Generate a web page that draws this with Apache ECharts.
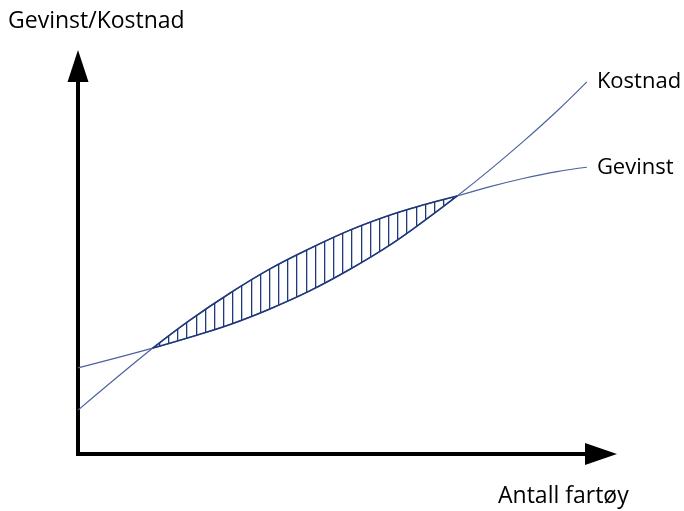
<!DOCTYPE html>
<html><head><meta charset="utf-8">
<script src="https://cdn.jsdelivr.net/npm/echarts@6/dist/echarts.min.js"></script>
<style>html,body{margin:0;padding:0;background:#fff}#c{width:684px;height:511px}</style>
</head><body><div id="c"></div>
<script>
// Schematic values (arbitrary units)
const xValues = [0, 1.43, 2.14, 2.91, 3.67, 4.44, 5.20, 5.97, 6.63, 7.25, 7.88, 8.51, 9.16, 9.73];
const kostnad = [2.22, 2.73, 3.01, 3.34, 3.74, 4.21, 4.76, 5.39, 6.02, 6.65, 7.33, 8.05, 8.84, 9.59];
const gevinst = [1.13, 2.73, 3.45, 4.15, 4.77, 5.30, 5.77, 6.16, 6.43, 6.65, 6.89, 7.10, 7.28, 7.39];
const lensStart = 1, lensEnd = 9; // indices of the two crossings
const seriesNames = ['Kostnad', 'Gevinst'];
const yTitle = 'Gevinst/Kostnad';
const xTitle = 'Antall fartøy';

const pair = (ys, a, b) => ys.slice(a, b + 1).map((y, i) => [xValues[a + i], y]);
// lens data stored as [y, x] so that the stack works on the y dimension
const lensBase = kostnad.slice(lensStart, lensEnd + 1).map((y, i) => [y, xValues[lensStart + i]]);
const lensDiff = lensBase.map((p, i) => [+(gevinst[lensStart + i] - p[0]).toFixed(3), p[1]]);

// vertical hatch pattern
const pat = document.createElement('canvas');
pat.width = 55; pat.height = 8;
const g = pat.getContext('2d');
g.fillStyle = '#1f3a7a';
[3, 12, 21, 31, 40, 49].forEach(x => g.fillRect(x, 0, 1.3, 8));

const SM = 0.4;
const lineColor = '#4d62a0';
const lensColor = '#1f3a7a';
const labelFont = {fontFamily: '"Open Sans"', fontSize: 22, color: '#000'};

const axisCommon = (size) => ({
  type: 'value', min: 0, max: 10,
  axisLine: {show: true, onZero: false, symbol: ['none', 'triangle'], symbolSize: size,
    lineStyle: {color: '#000', width: 4, cap: 'square'}},
  axisTick: {show: false}, axisLabel: {show: false}, splitLine: {show: false}
});

const chart = echarts.init(document.getElementById('c'));
chart.setOption({
  animation: false,
  backgroundColor: '#fff',
  grid: {left: 78, top: 66, width: 523, height: 388},
  xAxis: axisCommon([22, 32]),
  yAxis: axisCommon([21, 32]),
  series: [
    {name: seriesNames[0], type: 'line', data: pair(kostnad, 0, xValues.length - 1), smooth: SM,
      symbol: 'none', lineStyle: {color: lineColor, width: 1.2}, z: 3,
      endLabel: Object.assign({show: true, formatter: '{a}', distance: 10}, labelFont)},
    {name: seriesNames[1], type: 'line', data: pair(gevinst, 0, xValues.length - 1), smooth: SM,
      symbol: 'none', lineStyle: {color: lineColor, width: 1.2}, z: 3,
      endLabel: Object.assign({show: true, formatter: '{a}', distance: 10}, labelFont)},
    {name: 'lensBase', type: 'line', stack: 'lens', data: lensBase, encode: {x: 1, y: 0}, smooth: SM,
      symbol: 'none', lineStyle: {color: lensColor, width: 1.6}, z: 4},
    {name: 'lensTop', type: 'line', stack: 'lens', data: lensDiff, encode: {x: 1, y: 0}, smooth: SM,
      symbol: 'none', lineStyle: {color: lensColor, width: 1.6}, z: 4,
      areaStyle: {color: {image: pat, repeat: 'repeat'}, opacity: 1}}
  ],
  graphic: [
    {type: 'text', left: 8, top: 10, style: {text: yTitle, font: '23px "Open Sans"', fill: '#000'}},
    {type: 'text', left: 498, top: 485, style: {text: xTitle, font: '23px "Open Sans"', fill: '#000'}}
  ]
});
</script>
</body></html>
